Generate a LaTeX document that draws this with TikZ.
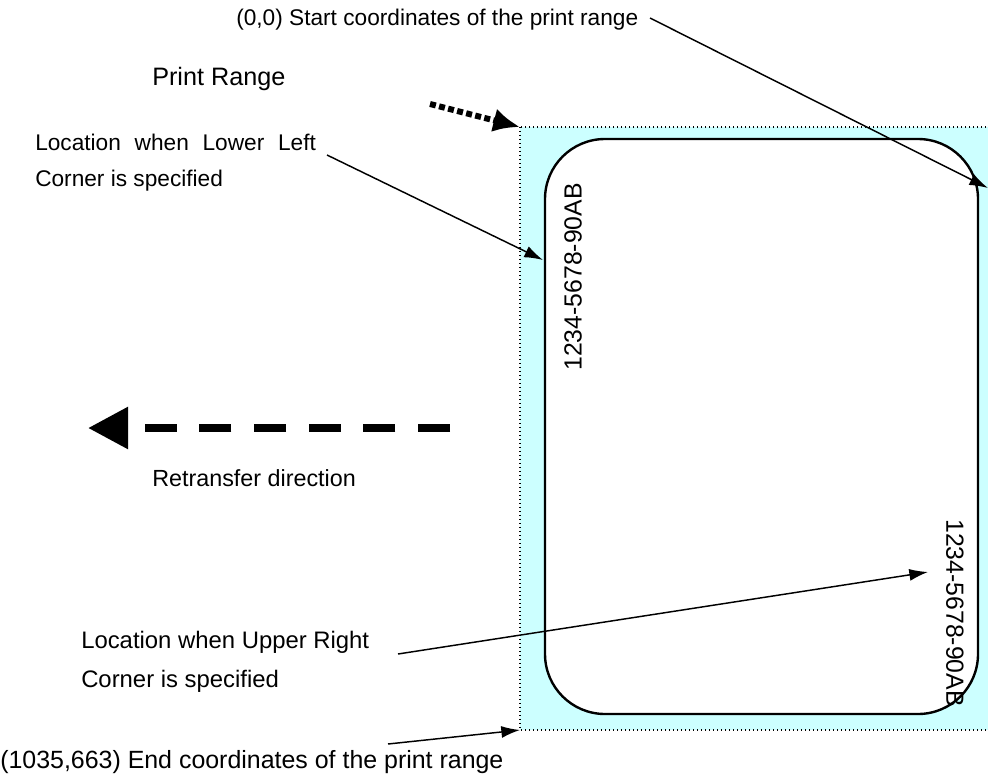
\documentclass[tikz,border=0pt]{standalone}
\usepackage{fontspec}
\setmainfont{Liberation Sans}
\usetikzlibrary{arrows.meta}
\definecolor{rangecyan}{HTML}{CCFFFF}
\tikzset{
  lbl/.style={anchor=west,inner sep=0pt,font=\fontsize{17}{20}\selectfont},
  lblb/.style={anchor=west,inner sep=0pt,font=\fontsize{17.9}{20}\selectfont},
  lblc/.style={anchor=west,inner sep=0pt,font=\fontsize{18.7}{22}\selectfont},
  biglbl/.style={anchor=west,inner sep=0pt,font=\fontsize{18.9}{22}\selectfont},
  dirlbl/.style={anchor=west,inner sep=0pt,font=\fontsize{17.5}{20}\selectfont},
  idtext/.style={inner sep=0pt,font=\fontsize{18.6}{20}\selectfont},
  pointer/.style={line width=1.1pt,-{Latex[length=14pt,width=9pt]}},
}
\begin{document}
\begin{tikzpicture}[x=0.75pt,y=-0.75pt]
\useasboundingbox (0,0) rectangle (988,778);
\clip (0,0) rectangle (988,778);
% print range
\draw[fill=rangecyan,line width=1pt,dotted] (520,127) rectangle (1000,730);
\coordinate (prTL) at (520,127);
\coordinate (prBL) at (520,730);
\coordinate (prTR) at (988,188);
% card
\draw[fill=white,line width=1.8pt,rounded corners=45pt] (545,139) rectangle (978,714);
\coordinate (cardL) at (543,260);
\coordinate (idR) at (928,572);
\node[idtext,rotate=90,anchor=west] (id1) at (573,371) {1234-5678-90AB};
\node[idtext,rotate=-90,anchor=west] (id2) at (955,519) {1234-5678-90AB};
% labels
\node[lbl] (start) at (236,20) {(0,0) Start coordinates of the print range};
\node[biglbl] (prlabel) at (152,79) {Print Range};
\node[lbl] (ll1) at (35,142) {Location\hspace{5.6pt} when\hspace{5.6pt} Lower\hspace{5.6pt} Left};
\node[lbl] (ll2) at (35,181) {Corner is specified};
\node[dirlbl] (retr) at (152,478) {Retransfer direction};
\node[lblb] (ur1) at (81,642) {Location when Upper Right};
\node[lblb] (ur2) at (81,681) {Corner is specified};
\node[lblc] (endlbl) at (0,762) {(1035,663) End coordinates of the print range};
% connectors
\coordinate (startA) at (650,18);
\draw[pointer] (startA) -- (prTR);
\coordinate (dotA) at (430,104);
\draw[line width=4.5pt,dash pattern=on 4.5pt off 2.5pt,-{Latex[length=20pt,width=18pt]}] (dotA) -- (prTL);
\coordinate (llA) at (327,155);
\draw[pointer] (llA) -- (cardL);
\coordinate (urA) at (398,654);
\draw[pointer] (urA) -- (idR);
\coordinate (endA) at (388,744);
\draw[pointer] (endA) -- (prBL);
\coordinate (dirA) at (450,428);
\coordinate (dirB) at (88,428);
\draw[line width=6.5pt,dash pattern=on 24pt off 17pt,-{Triangle[length=30pt,width=30pt]}] (dirA) -- (dirB);
\end{tikzpicture}
\end{document}
